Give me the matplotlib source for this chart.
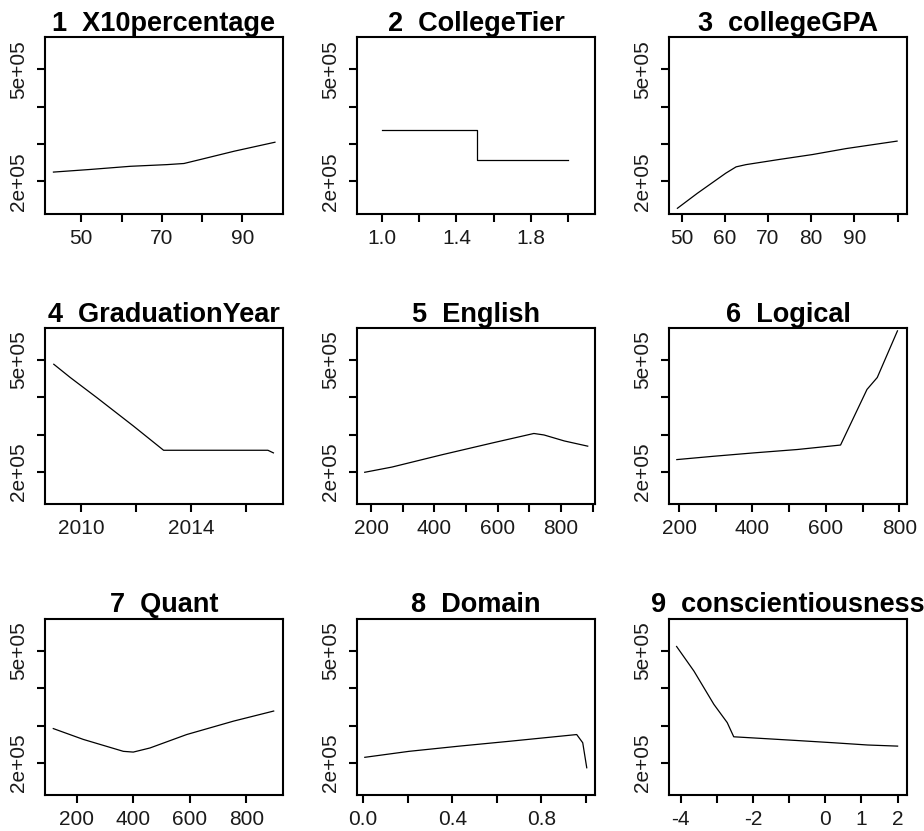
import matplotlib.pyplot as plt

plt.rcParams['font.family'] = ['Liberation Sans', 'DejaVu Sans']

# partial dependence curves, one per predictor
x10_x = [43.1, 52.2, 62.2, 71.3, 75.5, 79.7, 88.0, 98.1]
x10_y = [2.25e5, 2.32e5, 2.405e5, 2.45e5, 2.48e5, 2.59e5, 2.81e5, 3.05e5]

tier_x = [1.0, 1.51, 1.51, 2.0]
tier_y = [3.38e5, 3.38e5, 2.57e5, 2.57e5]

gpa_x = [49.0, 53.6, 60.2, 62.6, 64.9, 72.7, 80.3, 88.1, 99.9]
gpa_y = [1.28e5, 1.68e5, 2.22e5, 2.39e5, 2.45e5, 2.59e5, 2.72e5, 2.88e5, 3.08e5]

year_x = [2009, 2009.6, 2010.57, 2011.9, 2013, 2016.8, 2017]
year_y = [4.885e5, 4.53e5, 3.99e5, 3.23e5, 2.58e5, 2.58e5, 2.51e5]

eng_x = [180, 266, 424, 585, 714, 746, 810, 884]
eng_y = [1.99e5, 2.13e5, 2.46e5, 2.78e5, 3.03e5, 2.99e5, 2.83e5, 2.69e5]

log_x = [194, 295, 404, 522, 640, 712, 740, 795]
log_y = [2.33e5, 2.42e5, 2.51e5, 2.60e5, 2.72e5, 4.21e5, 4.53e5, 5.78e5]

quant_x = [117, 223, 365, 400, 459, 589, 755, 897]
quant_y = [2.92e5, 2.63e5, 2.31e5, 2.29e5, 2.40e5, 2.76e5, 3.12e5, 3.39e5]

dom_x = [0.008, 0.206, 0.432, 0.657, 0.958, 0.985, 1.003]
dom_y = [2.15e5, 2.31e5, 2.45e5, 2.58e5, 2.76e5, 2.54e5, 1.87e5]

cons_x = [-4.11, -3.63, -3.08, -2.71, -2.53, -2.0, -0.78, 0.23, 1.17, 2.0]
cons_y = [5.12e5, 4.46e5, 3.57e5, 3.08e5, 2.70e5, 2.67e5, 2.60e5, 2.54e5, 2.48e5, 2.45e5]

titles = ['1  X10percentage', '2  CollegeTier', '3  collegeGPA',
          '4  GraduationYear', '5  English', '6  Logical',
          '7  Quant', '8  Domain', '9  conscientiousness']

panels = [
    (x10_x, x10_y, (41.0, 100.1), [50, 60, 70, 80, 90], ['50', '', '70', '', '90']),
    (tier_x, tier_y, (0.865, 2.145), [1.0, 1.2, 1.4, 1.6, 1.8, 2.0], ['1.0', '', '1.4', '', '1.8', '']),
    (gpa_x, gpa_y, (47.05, 102.2), [50, 60, 70, 80, 90, 100], ['50', '60', '70', '80', '90', '']),
    (year_x, year_y, (2008.68, 2017.35), [2010, 2012, 2014, 2016], ['2010', '', '2014', '']),
    (eng_x, eng_y, (155.6, 907), [200, 300, 400, 500, 600, 700, 800, 900],
     ['200', '', '400', '', '600', '', '800', '']),
    (log_x, log_y, (172.7, 821), [200, 300, 400, 500, 600, 700, 800],
     ['200', '', '400', '', '600', '', '800']),
    (quant_x, quant_y, (87.6, 930), [200, 400, 600, 800], ['200', '400', '600', '800']),
    (dom_x, dom_y, (-0.027, 1.04), [0.0, 0.2, 0.4, 0.6, 0.8, 1.0], ['0.0', '', '0.4', '', '0.8', '']),
    (cons_x, cons_y, (-4.32, 2.26), [-4, -3, -2, -1, 0, 1, 2], ['-4', '', '-2', '', '0', '1', '2']),
]

W, H = 924, 831
fig = plt.figure(figsize=(W / 100, H / 100), dpi=100)

col_left = [45, 357, 669]
row_top = [37, 327.5, 618.5]
pw, ph = 238, 176.5

for i, (x, y, xlim, xt, xl) in enumerate(panels):
    r, c = divmod(i, 3)
    ax = fig.add_axes([col_left[c] / W, 1 - (row_top[r] + ph) / H, pw / W, ph / H])
    ax.plot(x, y, color='black', lw=0.9)
    ax.set_xlim(*xlim)
    ax.set_ylim(1.14e5, 5.87e5)
    ax.set_xticks(xt)
    ax.set_xticklabels(xl)
    ax.set_yticks([2e5, 3e5, 4e5, 5e5])
    ax.set_yticklabels(['2e+05', '', '', '5e+05'], rotation=90, va='center')
    ax.tick_params(direction='out', length=6, width=1.5, labelsize=15,
                   color='black', labelcolor='#1a1a1a')
    ax.tick_params(axis='x', pad=5)
    ax.tick_params(axis='y', pad=6)
    for s in ax.spines.values():
        s.set_linewidth(1.5)
    ax.set_title(titles[i], fontsize=19.5, fontweight='bold', pad=2)

fig.savefig('out.png', dpi=100, facecolor='white')
